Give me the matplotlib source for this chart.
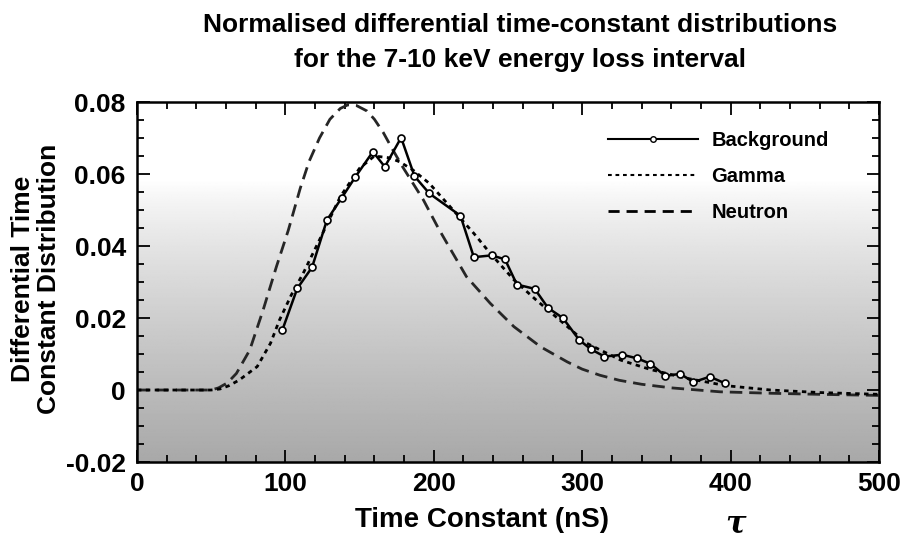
"""Normalised differential time-constant distributions, 7-10 keV energy loss."""

import matplotlib
matplotlib.use("Agg")
import matplotlib.pyplot as plt
import numpy as np
from matplotlib.lines import Line2D
from matplotlib.ticker import MultipleLocator

plt.rcParams["font.family"] = ["Liberation Sans", "DejaVu Sans"]
plt.rcParams["font.weight"] = "bold"

# %% data
bg_x = [98, 108, 118, 128, 138, 147, 159, 167, 178, 187, 197, 218, 227, 239,
        248, 256, 268, 277, 287, 298, 306, 315, 327, 337, 346, 356, 366, 375,
        386, 396]
bg_y = [0.0167, 0.0282, 0.0341, 0.0472, 0.0534, 0.0591, 0.0662, 0.0620,
        0.0701, 0.0594, 0.0546, 0.0484, 0.0369, 0.0374, 0.0363, 0.0293,
        0.0281, 0.0228, 0.0200, 0.0139, 0.0113, 0.0093, 0.0098, 0.0088,
        0.0073, 0.0039, 0.0045, 0.0022, 0.0037, 0.0019]

gamma_x = [0, 50, 56, 62, 69, 81, 90, 96, 104, 112, 123, 137, 150, 160, 170,
           177, 186, 197, 213, 227, 238, 254, 269, 285, 303, 326, 346, 370,
           397, 427, 460, 500]
gamma_y = [0.0, 0.0, 0.0003, 0.0012, 0.0028, 0.0065, 0.0130, 0.0194, 0.0264,
           0.0324, 0.0417, 0.0537, 0.0616, 0.0650, 0.0645, 0.0634, 0.0611,
           0.0574, 0.0500, 0.0435, 0.0380, 0.0306, 0.0250, 0.0194, 0.0130,
           0.0083, 0.0057, 0.0033, 0.0012, 0.0000, -0.0007, -0.0012]

neutron_x = [0, 50, 55, 61, 67, 76, 85, 94, 102, 110, 116, 123, 130, 137, 142,
             148, 155, 160, 166, 172, 179, 193, 203, 209, 222, 238, 254, 272,
             290, 300, 312, 325, 340, 360, 393, 427, 460, 500]
neutron_y = [0.0, 0.0, 0.0006, 0.0020, 0.0046, 0.0111, 0.0222, 0.0343, 0.0444,
             0.0560, 0.0635, 0.0700, 0.0752, 0.0782, 0.0792, 0.0790, 0.0775,
             0.0752, 0.0715, 0.0670, 0.0620, 0.0528, 0.0450, 0.0407, 0.0315,
             0.0241, 0.0176, 0.0120, 0.0078, 0.0058, 0.0041, 0.0027, 0.0016,
             0.0006, -0.0005, -0.0009, -0.0012, -0.0015]

series_labels = ["Background", "Gamma", "Neutron"]
y_ticks = [-0.02, 0, 0.02, 0.04, 0.06, 0.08]
y_tick_labels = ["-0.02", "0", "0.02", "0.04", "0.06", "0.08"]

# %% figure
fig = plt.figure(figsize=(9.01, 5.40), dpi=100)
ax = fig.add_axes([0.152, 0.1444, 0.8236, 0.6667])

# greyish scanned background, white at the top fading to mid grey
rows = np.linspace(0, 1, 300)[:, None]
shade = 1.0 - 0.34 * np.clip((rows - 0.22) / 0.78, 0, 1) ** 0.8
ax.imshow(np.repeat(shade, 4, axis=1), cmap="gray", vmin=0, vmax=1,
          extent=[0, 500, -0.02, 0.08], aspect="auto", zorder=0,
          origin="upper")
ax.set_xlim(0, 500)
ax.set_ylim(-0.02, 0.08)

ax.plot(neutron_x, neutron_y, color="#262626", lw=2.0,
        dashes=(4.5, 2.5), zorder=2)
ax.plot(gamma_x, gamma_y, color="black", lw=2.0, dashes=(1.6, 1.6), zorder=2)
ax.plot(bg_x, bg_y, color="black", lw=1.8, marker="o", ms=5,
        mfc="white", mec="black", mew=1.2, zorder=3)

ax.xaxis.set_major_locator(MultipleLocator(100))
ax.xaxis.set_minor_locator(MultipleLocator(20))
ax.set_yticks(y_ticks)
ax.set_yticklabels(y_tick_labels)
ax.yaxis.set_minor_locator(MultipleLocator(0.005))
ax.tick_params(which="both", direction="in", top=True, right=True,
               width=1.3, labelsize=19)
ax.tick_params(axis="y", pad=8)
ax.tick_params(axis="x", pad=7)
ax.tick_params(which="major", length=9)
ax.tick_params(which="minor", length=5)
for lab in ax.get_xticklabels() + ax.get_yticklabels():
    lab.set_fontweight("bold")
for sp in ax.spines.values():
    sp.set_linewidth(1.8)

fig.text(0.535, 0.037, "Time Constant (nS)", fontsize=20, fontweight="bold",
         ha="center", va="center")
fig.text(0.040, 0.483, "Differential Time\nConstant Distribution",
         fontsize=19, fontweight="bold", rotation=90, ha="center",
         va="center", linespacing=1.15)
fig.text(0.577, 0.954, "Normalised differential time-constant distributions",
         ha="center", va="center", fontsize=19, fontweight="bold")
fig.text(0.577, 0.889, "for the 7-10 keV energy loss interval",
         ha="center", va="center", fontsize=19, fontweight="bold")
fig.text(0.816, 0.03, "τ", family="DejaVu Serif", style="italic",
         fontsize=22, ha="center", va="center")

handles = [
    Line2D([0, 1, 2], [0, 0, 0], color="black", lw=1.5, marker="o", ms=4,
           mfc="white", mec="black", markevery=[1]),
    Line2D([], [], color="black", lw=1.5, dashes=(1.8, 1.8)),
    Line2D([], [], color="black", lw=2.0, dashes=(4, 2.5)),
]
leg = ax.legend(handles, series_labels, loc="upper left",
                bbox_to_anchor=(0.61, 0.97), frameon=False, fontsize=14.5,
                handlelength=4.5, handletextpad=0.65, labelspacing=0.85)
for t in leg.get_texts():
    t.set_fontweight("bold")

fig.savefig("out.png", dpi=100)
